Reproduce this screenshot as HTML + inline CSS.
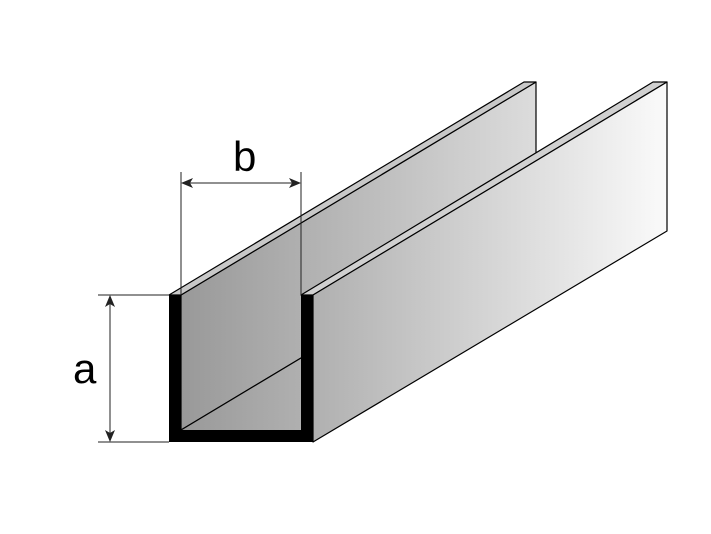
<!DOCTYPE html>
<html><head><style>html,body{margin:0;padding:0;background:#fff;width:711px;height:534px;overflow:hidden}</style></head>
<body>
<svg width="711" height="534" viewBox="0 0 711 534" xmlns="http://www.w3.org/2000/svg">
<defs>
<linearGradient id="g1" x1="181" y1="0" x2="536" y2="0" gradientUnits="userSpaceOnUse">
<stop offset="0" stop-color="#999"/><stop offset="1" stop-color="#dcdcdc"/></linearGradient>
<linearGradient id="g2" x1="313" y1="0" x2="667" y2="0" gradientUnits="userSpaceOnUse">
<stop offset="0" stop-color="#b0b0b0"/><stop offset="1" stop-color="#fafafa"/></linearGradient>
<marker id="ar" markerWidth="12" markerHeight="10" refX="11" refY="5" orient="auto" markerUnits="userSpaceOnUse">
<path d="M0,0 L12,5 L0,10 L3,5 z" fill="#222"/></marker>
</defs>
<g stroke="#000" stroke-width="1.2" stroke-linejoin="round">
<!-- left wall inner face -->
<polygon points="181,295 536,82 536,217 181,430" fill="url(#g1)"/>
<!-- floor -->
<polygon points="181,430 301,430 655,217 536,217" fill="url(#g1)" stroke="none"/>
<line x1="181" y1="430" x2="301" y2="358"/>
<!-- left top strip -->
<polygon points="169,295 181,295 536,82 524,82" fill="#c8c8c8"/>
<!-- right wall top strip -->
<polygon points="301,295 313,295 667,82 653,82" fill="#d0d0d0"/>
<!-- right wall outer face -->
<polygon points="313,295 667,82 667,231 313,442" fill="url(#g2)"/>
</g>
<!-- front U -->
<path d="M169,295 H181 V430 H301 V295 H313 V442 H169 Z" fill="#000"/>
<!-- dimensions -->
<g stroke="#222" stroke-width="1">
<line x1="181" y1="172" x2="181" y2="295"/>
<line x1="301" y1="172" x2="301" y2="295"/>
<line x1="241" y1="183" x2="182" y2="183" marker-end="url(#ar)"/>
<line x1="241" y1="183" x2="300" y2="183" marker-end="url(#ar)"/>
<line x1="98" y1="295" x2="169" y2="295"/>
<line x1="98" y1="442" x2="169" y2="442"/>
<line x1="110" y1="368" x2="110" y2="296" marker-end="url(#ar)"/>
<line x1="110" y1="368" x2="110" y2="441" marker-end="url(#ar)"/>
</g>
<text x="233" y="171" font-family="Liberation Sans, sans-serif" font-size="42" fill="#000">b</text>
<text x="73" y="383" font-family="Liberation Sans, sans-serif" font-size="42" fill="#000">a</text>
</svg>
</body></html>
